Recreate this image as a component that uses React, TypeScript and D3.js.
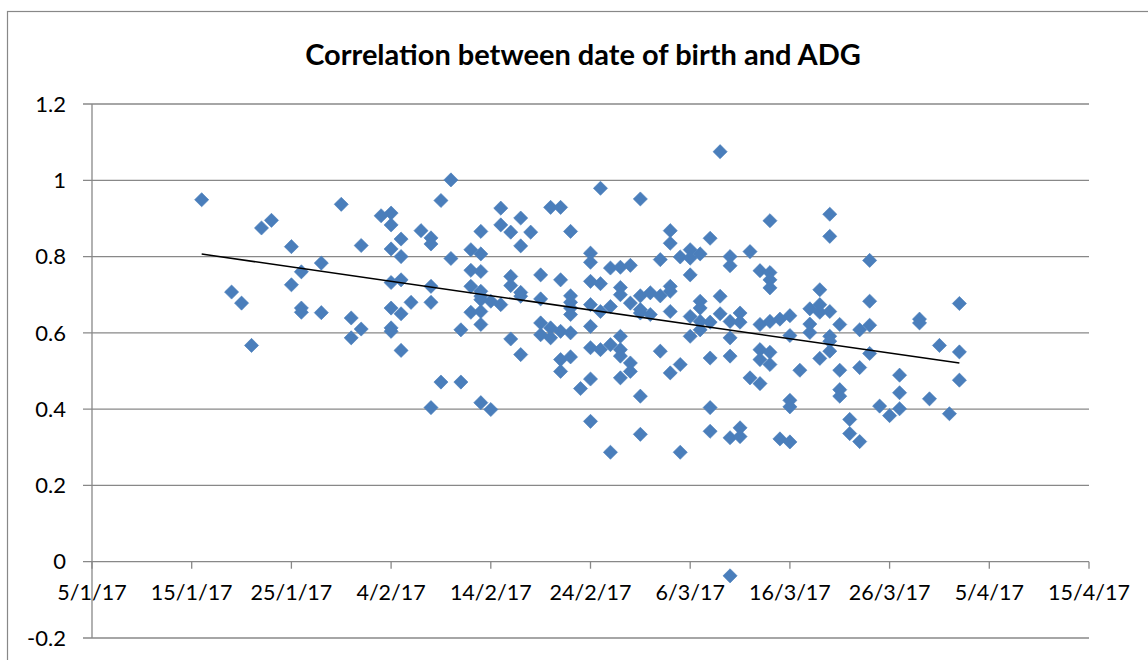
import React from 'react';
import * as d3 from 'd3';

// birth dates (d/m/yy) and the ADG values of the calves born on each day
const birthDates = [
  '16/1/17', '19/1/17', '20/1/17', '21/1/17', '22/1/17', '23/1/17', '25/1/17', '26/1/17',
  '28/1/17', '30/1/17', '31/1/17', '1/2/17', '3/2/17', '4/2/17', '5/2/17', '6/2/17',
  '7/2/17', '8/2/17', '9/2/17', '10/2/17', '11/2/17', '12/2/17', '13/2/17', '14/2/17',
  '15/2/17', '16/2/17', '17/2/17', '18/2/17', '19/2/17', '20/2/17', '21/2/17', '22/2/17',
  '23/2/17', '24/2/17', '25/2/17', '26/2/17', '27/2/17', '28/2/17', '1/3/17', '2/3/17',
  '3/3/17', '4/3/17', '5/3/17', '6/3/17', '7/3/17', '8/3/17', '9/3/17', '10/3/17',
  '11/3/17', '12/3/17', '13/3/17', '14/3/17', '15/3/17', '16/3/17', '17/3/17', '18/3/17',
  '19/3/17', '20/3/17', '21/3/17', '22/3/17', '23/3/17', '24/3/17', '25/3/17', '26/3/17',
  '27/3/17', '29/3/17', '30/3/17', '31/3/17', '1/4/17', '2/4/17',
];

const adgValues = [
  [0.949], [0.707], [0.678], [0.567], [0.875], [0.895], [0.826, 0.726], [0.76, 0.665, 0.654],
  [0.783, 0.653], [0.937], [0.639, 0.587], [0.829, 0.61],
  [0.907], [0.914, 0.883, 0.82, 0.732, 0.665, 0.613, 0.604], [0.846, 0.8, 0.739, 0.65, 0.554], [0.68],
  [0.868], [0.849, 0.833, 0.722, 0.68, 0.404], [0.947, 0.471], [1.001, 0.795],
  [0.608, 0.471], [0.818, 0.764, 0.722, 0.654],
  [0.866, 0.807, 0.761, 0.709, 0.696, 0.687, 0.656, 0.622, 0.417], [0.683, 0.399],
  [0.927, 0.883, 0.674], [0.864, 0.748, 0.724, 0.584], [0.901, 0.828, 0.706, 0.696, 0.543], [0.864],
  [0.752, 0.689, 0.626, 0.595], [0.929, 0.613, 0.587], [0.929, 0.739, 0.604, 0.53, 0.499],
  [0.866, 0.697, 0.68, 0.665, 0.648, 0.6, 0.537],
  [0.454], [0.809, 0.785, 0.735, 0.674, 0.617, 0.561, 0.479, 0.368], [0.979, 0.729, 0.656, 0.556],
  [0.77, 0.669, 0.569, 0.287], [0.772, 0.719, 0.7, 0.591, 0.556, 0.539, 0.482],
  [0.777, 0.678, 0.521, 0.499], [0.951, 0.697, 0.661, 0.652, 0.434, 0.334], [0.705, 0.648],
  [0.792, 0.697, 0.552], [0.868, 0.835, 0.722, 0.709, 0.656, 0.495], [0.799, 0.517, 0.287],
  [0.818, 0.796, 0.752, 0.643, 0.591], [0.807, 0.683, 0.665, 0.63, 0.608],
  [0.848, 0.628, 0.534, 0.404, 0.342], [1.075, 0.696, 0.65],
  [0.8, 0.776, 0.63, 0.587, 0.539, 0.325, -0.037],
  [0.652, 0.628, 0.351, 0.328], [0.813, 0.482], [0.763, 0.622, 0.556, 0.53, 0.467],
  [0.894, 0.758, 0.739, 0.718, 0.63, 0.549, 0.517], [0.636, 0.322],
  [0.645, 0.593, 0.423, 0.406, 0.314], [0.502], [0.663, 0.623, 0.601],
  [0.713, 0.674, 0.654, 0.533], [0.911, 0.853, 0.656, 0.591, 0.578, 0.552],
  [0.622, 0.502, 0.451, 0.434], [0.373, 0.336], [0.608, 0.509, 0.315],
  [0.79, 0.683, 0.62, 0.546], [0.408], [0.383],
  [0.489, 0.443, 0.401], [0.636, 0.626], [0.427], [0.567], [0.388], [0.677, 0.55, 0.476],
];

const yTicks = [-0.2, 0, 0.2, 0.4, 0.6, 0.8, 1, 1.2];
const xDomain = ['5/1/17', '15/4/17'];
const title = 'Correlation between date of birth and ADG';

const W = 1148;
const H = 660;
const plot = { left: 92, right: 1089, top: 104, bottom: 638 };
const font = 'Lato, "Open Sans", sans-serif';
const gridColor = '#888888';
const markerColor = '#4a7ebb';

const DAY = 86400000;

export default function App() {
  const parse = d3.timeParse('%d/%m/%y');
  const fmt = d3.timeFormat('%-d/%-m/%y');
  const [start, end] = xDomain.map((d) => parse(d) as Date);

  const x = d3.scaleTime().domain([start, end]).range([plot.left, plot.right]);
  const y = d3.scaleLinear().domain([-0.2, 1.2]).range([plot.bottom, plot.top]);

  const xTicks = d3.range(0, 101, 10).map((n) => d3.timeDay.offset(start, n));

  const points = birthDates.flatMap((d, i) =>
    adgValues[i].map((v) => ({ date: parse(d) as Date, v })),
  );

  // least squares trendline
  const xs = points.map((p) => p.date.getTime() / DAY);
  const ys = points.map((p) => p.v);
  const mx = d3.mean(xs) as number;
  const my = d3.mean(ys) as number;
  const slope =
    d3.sum(xs, (xv, i) => (xv - mx) * (ys[i] - my)) / d3.sum(xs, (xv) => (xv - mx) ** 2);
  const [minD, maxD] = d3.extent(points, (p) => p.date) as [Date, Date];
  const trend = (d: Date) => my + slope * (d.getTime() / DAY - mx);

  const diamond = d3.symbol().type(d3.symbolSquare).size(100)() as string;
  const zeroY = y(0);

  return (
    <div style={{ position: 'absolute', left: 0, top: 0 }}>
      <svg width={W} height={H} style={{ display: 'block', background: '#fff' }}>
        <rect x={7.5} y={11.5} width={W + 20} height={H + 20} fill="#fff" stroke={gridColor} strokeWidth={1.2} />

        <text
          x={583}
          y={65}
          textAnchor="middle"
          fontFamily={font}
          fontWeight="bold"
          fontSize={29}
        >
          {title}
        </text>

        <g className="grid">
          {yTicks.map((t) => (
            <g key={t}>
              <line x1={plot.left - 9} x2={plot.right} y1={y(t)} y2={y(t)} stroke={gridColor} strokeWidth={1.3} />
              <text
                x={66}
                y={y(t)}
                dy="0.35em"
                textAnchor="end"
                fontFamily={font}
                fontSize={22}
              >
                {t}
              </text>
            </g>
          ))}
        </g>

        <g className="axis">
          <line x1={plot.left} x2={plot.left} y1={plot.top} y2={plot.bottom} stroke={gridColor} strokeWidth={1.3} />
          {xTicks.map((t) => (
            <g key={t.getTime()}>
              <line x1={x(t)} x2={x(t)} y1={zeroY} y2={zeroY + 7} stroke={gridColor} strokeWidth={1.3} />
              <text
                x={x(t)}
                y={zeroY + 38}
                textAnchor="middle"
                fontFamily={font}
                fontSize={21.5}
              >
                {fmt(t)}
              </text>
            </g>
          ))}
        </g>

        <g className="data">
          {points.map((p, i) => (
            <path
              key={i}
              d={diamond}
              transform={`translate(${x(p.date)},${y(p.v)}) rotate(45)`}
              fill={markerColor}
              stroke={markerColor}
              strokeWidth={0.6}
            />
          ))}
        </g>

        <line
          x1={x(minD)}
          x2={x(maxD)}
          y1={y(trend(minD))}
          y2={y(trend(maxD))}
          stroke="#000"
          strokeWidth={1.5}
        />
      </svg>
    </div>
  );
}
